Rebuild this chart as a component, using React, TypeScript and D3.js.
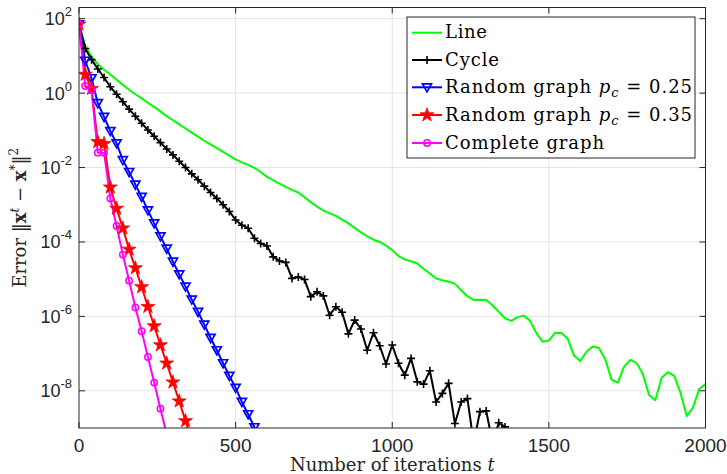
import React from 'react';
import * as d3 from 'd3';

// iterations are sampled every 20 steps, starting at t = 0
const ITER_STEP = 20;

// log10 of the error
const lineLog = [
  1.85, 1.27, 0.98, 0.78, 0.63, 0.50, 0.36, 0.22, 0.09, -0.03,
  -0.14, -0.26, -0.37, -0.49, -0.62, -0.73, -0.84, -0.95, -1.06, -1.17,
  -1.28, -1.38, -1.48, -1.58, -1.68, -1.78, -1.86, -1.93, -2.01, -2.12,
  -2.25, -2.34, -2.43, -2.52, -2.60, -2.67, -2.80, -2.93, -3.05, -3.15,
  -3.23, -3.30, -3.40, -3.50, -3.62, -3.74, -3.85, -3.94, -4.00, -4.10,
  -4.22, -4.38, -4.47, -4.52, -4.58, -4.72, -4.85, -4.98, -5.03, -5.07,
  -5.12, -5.30, -5.46, -5.56, -5.55, -5.56, -5.70, -5.88, -6.05, -6.12,
  -6.02, -5.98, -6.12, -6.45, -6.68, -6.65, -6.44, -6.45, -6.60, -7.05,
  -7.20, -6.95, -6.81, -6.85, -7.15, -7.70, -7.78, -7.35, -7.17, -7.25,
  -7.55, -8.12, -8.25, -7.65, -7.50, -7.60, -8.05, -8.68, -8.45, -7.95,
  -7.82,
];

const cycleLog = [
  1.85, 1.20, 0.90, 0.65, 0.42, 0.17, -0.03, -0.23, -0.43, -0.62,
  -0.81, -0.99, -1.16, -1.33, -1.50, -1.66, -1.83, -2.00, -2.17, -2.33,
  -2.50, -2.67, -2.83, -3.00, -3.18, -3.41, -3.55, -3.63, -3.90, -4.04,
  -4.11, -4.40, -4.51, -4.55, -4.98, -4.94, -5.01, -5.47, -5.34, -5.45,
  -5.97, -5.74, -5.89, -6.47, -6.10, -6.34, -6.91, -6.44, -6.79, -7.28,
  -6.77, -7.26, -7.58, -7.13, -7.76, -7.82, -7.46, -8.30, -8.07, -7.80,
  -8.88, -8.30, -8.21, -9.40, -8.56, -8.54, -9.40, -8.86, -8.97, -9.40,
];

const rand25Log = [
  1.85, 0.87, 0.40, -0.27, -0.64, -1.02, -1.35, -1.80, -2.12, -2.46,
  -2.79, -3.15, -3.50, -3.85, -4.18, -4.53, -4.87, -5.20, -5.55, -5.88,
  -6.22, -6.58, -6.91, -7.26, -7.60, -7.92, -8.30, -8.63, -8.98, -9.33,
];

const rand35Log = [
  1.85, 0.50, 0.12, -1.31, -1.36, -2.53, -3.10, -3.63, -4.20, -4.70,
  -5.21, -5.74, -6.26, -6.77, -7.26, -7.77, -8.28, -8.81, -9.33,
];

const completeLog = [
  1.85, 0.19, 0.08, -1.60, -1.60, -2.83, -3.57, -4.34, -5.04, -5.76,
  -6.40, -7.09, -7.78, -8.48, -9.17,
];

const X_TICKS = [0, 500, 1000, 1500, 2000];
const Y_TICK_EXPS = [2, 0, -2, -4, -6, -8];

type Kind = 'none' | 'plus' | 'tri' | 'star' | 'circle';

const SERIES: { key: string; data: number[]; color: string; kind: Kind }[] = [
  { key: 'line', data: lineLog, color: '#00ff00', kind: 'none' },
  { key: 'cycle', data: cycleLog, color: '#000000', kind: 'plus' },
  { key: 'r25', data: rand25Log, color: '#0000ff', kind: 'tri' },
  { key: 'r35', data: rand35Log, color: '#ff0000', kind: 'star' },
  { key: 'complete', data: completeLog, color: '#ff00ff', kind: 'circle' },
];

const W = 727;
const H = 474;
const PL = 79;
const PR = 705.5;
const PT = 7.5;
const PB = 428;
const AXIS = '#262626';
const GRID = '#e3e3e3';
const SERIF = '"DejaVu Serif", serif';
const SANS = '"Liberation Sans", Arial, Helvetica, sans-serif';

const starPath = d3.symbol().type(d3.symbolStar).size(60)() as string;

function Marker({ kind, cx, cy, color }: { kind: Kind; cx: number; cy: number; color: string }) {
  if (kind === 'plus') {
    return (
      <path
        d={`M${cx - 4},${cy}H${cx + 4}M${cx},${cy - 4}V${cy + 4}`}
        stroke={color}
        strokeWidth={1.6}
        fill="none"
      />
    );
  }
  if (kind === 'tri') {
    return (
      <path
        d={`M${cx - 4.5},${cy - 3.5}L${cx + 4.5},${cy - 3.5}L${cx},${cy + 4.5}Z`}
        stroke={color}
        strokeWidth={1.7}
        fill="none"
      />
    );
  }
  if (kind === 'star') {
    return <path d={starPath} transform={`translate(${cx},${cy})`} fill={color} stroke={color} strokeWidth={0.8} />;
  }
  if (kind === 'circle') {
    return <circle cx={cx} cy={cy} r={3.2} stroke={color} strokeWidth={1.5} fill="none" />;
  }
  return null;
}

export default function App() {
  const x = d3.scaleLinear().domain([0, 2000]).range([PL, PR]);
  const y = d3.scaleLog().domain([1e-9, 200]).range([PB, PT]);

  const lineGen = d3
    .line<number>()
    .x((_, i) => x(i * ITER_STEP))
    .y((v) => y(Math.pow(10, v)));

  const legendRows = [
    { width: 42, label: [<tspan key="a">Line</tspan>] },
    { width: 54, label: [<tspan key="a">Cycle</tspan>] },
    {
      width: 247,
      label: [
        <tspan key="a">Random graph </tspan>,
        <tspan key="b" fontStyle="italic">p</tspan>,
        <tspan key="c" fontStyle="italic" fontSize={13} dy={4}>c</tspan>,
        <tspan key="d" dy={-4}> = 0.25</tspan>,
      ],
    },
    {
      width: 247,
      label: [
        <tspan key="a">Random graph </tspan>,
        <tspan key="b" fontStyle="italic">p</tspan>,
        <tspan key="c" fontStyle="italic" fontSize={13} dy={4}>c</tspan>,
        <tspan key="d" dy={-4}> = 0.35</tspan>,
      ],
    },
    { width: 159, label: [<tspan key="a">Complete graph</tspan>] },
  ];
  const legendY = [32.7, 60, 87.3, 115, 143];

  return (
    <svg
      width={W}
      height={H}
      viewBox={`0 0 ${W} ${H}`}
      style={{ position: 'absolute', left: 0, top: 0, background: '#fff' }}
    >
      <defs>
        <clipPath id="plotClip">
          <rect x={PL} y={PT} width={PR - PL} height={PB - PT} />
        </clipPath>
      </defs>
      <rect x={0} y={0} width={W} height={H} fill="#fff" />

      {/* grid */}
      {X_TICKS.slice(1, -1).map((t) => (
        <line key={'gx' + t} x1={x(t)} x2={x(t)} y1={PT} y2={PB} stroke={GRID} strokeWidth={1} />
      ))}
      {Y_TICK_EXPS.map((e) => (
        <line key={'gy' + e} x1={PL} x2={PR} y1={y(Math.pow(10, e))} y2={y(Math.pow(10, e))} stroke={GRID} strokeWidth={1} />
      ))}

      {/* data */}
      <g clipPath="url(#plotClip)">
        {SERIES.map((s) => (
          <path key={s.key} d={lineGen(s.data) as string} fill="none" stroke={s.color} strokeWidth={2} strokeLinejoin="round" />
        ))}
        {SERIES.map((s) =>
          s.kind === 'none'
            ? null
            : s.data.map((v, i) => (
                <Marker key={s.key + i} kind={s.kind} cx={x(i * ITER_STEP)} cy={y(Math.pow(10, v))} color={s.color} />
              ))
        )}
      </g>

      {/* axes box */}
      <rect x={PL} y={PT} width={PR - PL} height={PB - PT} fill="none" stroke={AXIS} strokeWidth={1} />
      {X_TICKS.map((t) => (
        <g key={'tx' + t}>
          <line x1={x(t)} x2={x(t)} y1={PB} y2={PB - 6} stroke={AXIS} />
          <line x1={x(t)} x2={x(t)} y1={PT} y2={PT + 6} stroke={AXIS} />
          <text x={x(t)} y={452} textAnchor="middle" fontFamily={SANS} fontSize={19} fill={AXIS}>
            {t}
          </text>
        </g>
      ))}
      {Y_TICK_EXPS.map((e) => {
        const yy = y(Math.pow(10, e));
        return (
          <g key={'ty' + e}>
            <line x1={PL} x2={PL + 6} y1={yy} y2={yy} stroke={AXIS} />
            <line x1={PR} x2={PR - 6} y1={yy} y2={yy} stroke={AXIS} />
            <text x={72} y={yy + 6.5} textAnchor="end" fontFamily={SANS} fontSize={18} fill={AXIS}>
              10
              <tspan fontSize={13} dy={-9}>
                {e < 0 ? '-' + Math.abs(e) : String(e)}
              </tspan>
            </text>
          </g>
        );
      })}

      {/* axis labels */}
      <text x={(PL + PR) / 2} y={471} textAnchor="middle" fontFamily={SERIF} fontSize={18} fill={AXIS}>
        Number of iterations <tspan fontStyle="italic">t</tspan>
      </text>
      <text
        transform={`translate(26,${(PT + PB) / 2}) rotate(-90)`}
        textAnchor="middle"
        fontFamily={SERIF}
        fontSize={18}
        fill={AXIS}
      >
        Error ‖<tspan fontWeight="bold">x</tspan>
        <tspan fontStyle="italic" fontSize={12} dy={-7}>t</tspan>
        <tspan dy={7}> − </tspan>
        <tspan fontWeight="bold">x</tspan>
        <tspan fontSize={12} dy={-7}>*</tspan>
        <tspan dy={7}>‖</tspan>
        <tspan fontSize={12} dy={-8}>2</tspan>
      </text>

      {/* legend */}
      <rect x={407} y={17} width={288} height={141} fill="#fff" stroke={AXIS} strokeWidth={1} />
      {SERIES.map((s, i) => (
        <g key={'lg' + s.key}>
          <line x1={412} x2={442} y1={legendY[i]} y2={legendY[i]} stroke={s.color} strokeWidth={2} />
          <Marker kind={s.kind} cx={427} cy={legendY[i]} color={s.color} />
          <text
            x={445}
            y={legendY[i] + 5.5}
            fontFamily={SERIF}
            fontSize={18}
            fill="#000"
            textLength={legendRows[i].width}
            lengthAdjust="spacing"
          >
            {legendRows[i].label}
          </text>
        </g>
      ))}
    </svg>
  );
}
